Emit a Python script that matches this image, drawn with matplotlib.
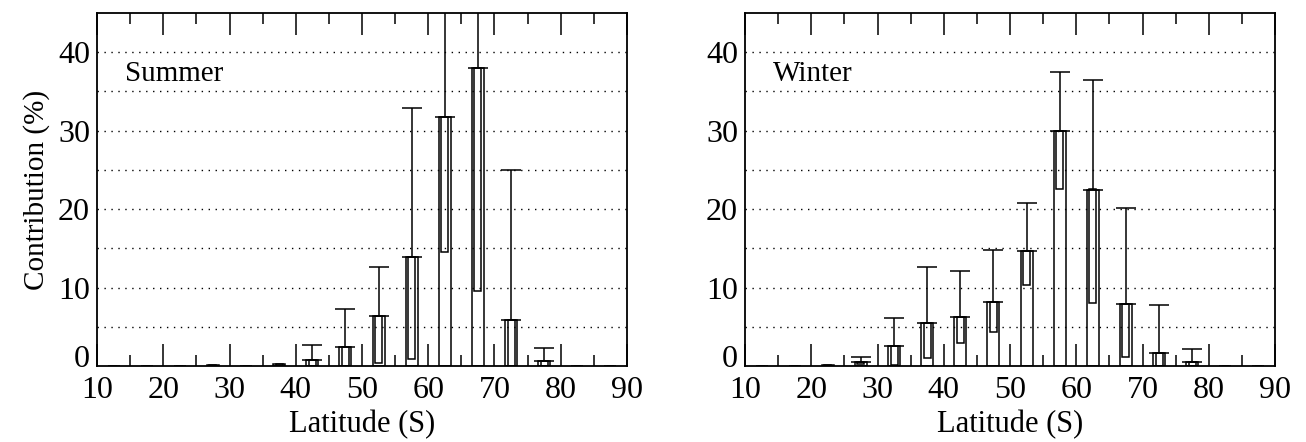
import matplotlib
matplotlib.use("Agg")
import matplotlib.pyplot as plt
from matplotlib.ticker import MultipleLocator, FixedLocator
import numpy as np

plt.rcParams['font.family'] = ['Liberation Serif', 'DejaVu Serif']

# latitude bin centres (degrees S)
lat = np.array([12.5, 17.5, 22.5, 27.5, 32.5, 37.5, 42.5, 47.5,
                52.5, 57.5, 62.5, 67.5, 72.5, 77.5, 82.5, 87.5])

# summer: contribution, lower bound of inner box, upper whisker
summer_val = np.array([0, 0, 0, 0.1, 0.05, 0.25, 0.76, 2.46,
                       6.36, 13.9, 31.7, 38.0, 5.85, 0.67, 0, 0])
summer_low = np.array([0, 0, 0, 0, 0, 0, 0, 0,
                       0.4, 0.85, 14.5, 9.6, 0, 0, 0, 0])
summer_up = np.array([0, 0, 0, 0.1, 0.05, 0.25, 2.7, 7.3,
                      12.6, 32.9, 60.0, 60.0, 25.0, 2.3, 0, 0])

# winter
winter_val = np.array([0.05, 0.05, 0.1, 0.55, 2.5, 5.5, 6.27, 8.18,
                       14.7, 30.0, 22.5, 7.9, 1.6, 0.47, 0, 0])
winter_low = np.array([0, 0, 0, 0.3, 0.1, 0.97, 2.88, 4.36,
                       10.3, 22.5, 8.05, 1.2, 0, 0, 0, 0])
winter_up = np.array([0.05, 0.05, 0.1, 1.2, 6.1, 12.6, 12.1, 14.8,
                      20.8, 37.5, 36.5, 20.1, 7.8, 2.2, 0, 0])

panels = [("Summer", summer_val, summer_low, summer_up),
          ("Winter", winter_val, winter_low, winter_up)]

fig = plt.figure(figsize=(13.06, 4.42), dpi=100)
lefts = [97 / 1306, 745 / 1306]
lw = 1.1

for i, (name, val, low, up) in enumerate(panels):
    ax = fig.add_axes([lefts[i], 1 - 366 / 442, 530 / 1306, 353 / 442])
    # outer box 0 -> value
    ax.bar(lat, val, width=1.8, fill=False, edgecolor='black', linewidth=lw, zorder=3)
    # inner box low -> value
    ax.bar(lat, val - low, bottom=low, width=1.05, fill=False,
           edgecolor='black', linewidth=lw, zorder=3)
    # upper whisker
    m = up > val
    ax.errorbar(lat[m], val[m], yerr=[np.zeros(m.sum()), (up - val)[m]],
                fmt='none', ecolor='black', elinewidth=lw, capsize=7,
                capthick=lw, zorder=3)

    ax.set_xlim(10, 90)
    ax.set_ylim(0, 45)
    ax.xaxis.set_major_locator(MultipleLocator(10))
    ax.xaxis.set_minor_locator(MultipleLocator(5))
    ax.yaxis.set_major_locator(FixedLocator([10, 20, 30, 40]))
    ax.tick_params(axis='x', which='both', direction='in', top=True,
                   labelsize=23, width=lw, pad=7)
    ax.tick_params(axis='x', which='major', length=16)
    ax.tick_params(axis='x', which='minor', length=8)
    ax.tick_params(axis='y', which='both', length=0, labelsize=23, pad=5)
    for yv in np.arange(5, 45, 5):
        ax.axhline(yv, color='black', linestyle=(0, (1, 4)), linewidth=1.0, zorder=1)
    for s in ax.spines.values():
        s.set_linewidth(1.3)

    # "0" label sits slightly above the axis line in the original
    ax.annotate("0", xy=(0, 0), xycoords='axes fraction', xytext=(-5, 5),
                textcoords='offset points', ha='right', va='center', fontsize=23)

    ax.set_xlabel("Latitude (S)", fontsize=22, labelpad=4)
    if i == 0:
        ax.set_ylabel("Contribution (%)", fontsize=21, labelpad=6)
    ax.text(14.2, 37.2, name, fontsize=21, va='center', ha='left')

fig.savefig("out.png", dpi=100)
